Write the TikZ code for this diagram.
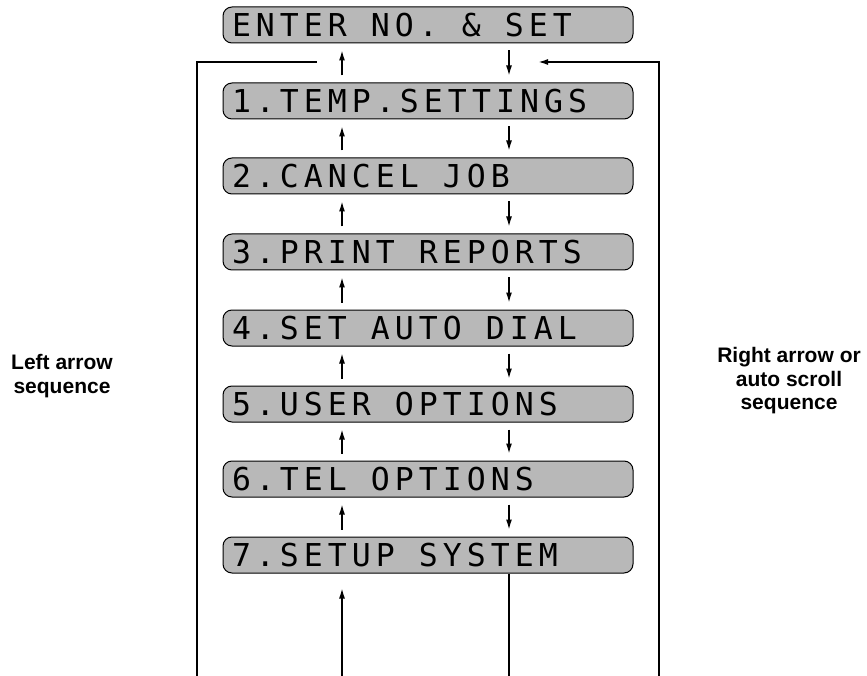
\documentclass[tikz,border=0pt]{standalone}
\usepackage{fontspec}
\newfontfamily\lcdfont[LetterSpace=16]{DejaVu Sans Mono}
\newfontfamily\labelfont{Liberation Sans}
\newcommand\lcdsetup{\lcdfont\fontsize{31.5}{32}\selectfont}
\newcommand\lcdgap{\hspace*{24pt}}
\usetikzlibrary{arrows.meta,positioning}

\begin{document}
\begin{tikzpicture}[
    >={Latex[length=10pt,width=6pt]},
    x=1pt,
    y=-1pt,
    screen/.style={draw, line width=1pt, rounded corners=9pt, fill=black!28,
        minimum width=410pt, minimum height=36pt, text width=392pt,
        inner xsep=9pt, align=left, text height=23pt, text depth=0pt,
        font=\lcdsetup},
    stepline/.style={line width=1.3pt, shorten >=7pt, shorten <=7pt},
    loopline/.style={line width=1.8pt},
    sidelabel/.style={align=center,
        font=\labelfont\bfseries\fontsize{21}{23.5}\selectfont}
]

\useasboundingbox (0,0) rectangle (867,676);

% Ekrany menu
\node[screen] (m0) at (428,25) {ENTER\lcdgap NO.\lcdgap\&\lcdgap SET};
\node[screen] (m1) at (428,101) {1.TEMP.SETTINGS};
\node[screen] (m2) at (428,176) {2.CANCEL\lcdgap JOB};
\node[screen] (m3) at (428,252) {3.PRINT\lcdgap REPORTS};
\node[screen] (m4) at (428,328) {4.SET\lcdgap AUTO\lcdgap DIAL};
\node[screen] (m5) at (428,404) {5.USER\lcdgap OPTIONS};
\node[screen] (m6) at (428,479) {6.TEL\lcdgap OPTIONS};
\node[screen] (m7) at (428,555) {7.SETUP\lcdgap SYSTEM};

% Punkty pomocnicze
\coordinate (ubot) at (342,676);
\coordinate (dbot) at (509,676);
\coordinate (lbot) at (197,676);
\coordinate (ltop) at (317,62);
\coordinate (rbot) at (659,676);
\coordinate (rtop) at (538,62);

% Strzalki w gore
\draw[stepline,->] (m1.north -| ubot) -- (m0.south -| ubot);
\draw[stepline,->] (m2.north -| ubot) -- (m1.south -| ubot);
\draw[stepline,->] (m3.north -| ubot) -- (m2.south -| ubot);
\draw[stepline,->] (m4.north -| ubot) -- (m3.south -| ubot);
\draw[stepline,->] (m5.north -| ubot) -- (m4.south -| ubot);
\draw[stepline,->] (m6.north -| ubot) -- (m5.south -| ubot);
\draw[stepline,->] (m7.north -| ubot) -- (m6.south -| ubot);

% Strzalki w dol
\draw[stepline,->] (m0.south -| dbot) -- (m1.north -| dbot);
\draw[stepline,->] (m1.south -| dbot) -- (m2.north -| dbot);
\draw[stepline,->] (m2.south -| dbot) -- (m3.north -| dbot);
\draw[stepline,->] (m3.south -| dbot) -- (m4.north -| dbot);
\draw[stepline,->] (m4.south -| dbot) -- (m5.north -| dbot);
\draw[stepline,->] (m5.south -| dbot) -- (m6.north -| dbot);
\draw[stepline,->] (m6.south -| dbot) -- (m7.north -| dbot);

% Wejscie i wyjscie na dole
\draw[stepline,->,shorten <=0pt,shorten >=15pt] (ubot) -- (m7.south -| ubot);
\draw[stepline,shorten <=0pt,shorten >=0pt] (m7.south -| dbot) -- (dbot);

% Petle boczne
\draw[loopline] (lbot) |- (ltop);
\draw[loopline,->] (rbot) |- (rtop);

% Opisy
\node[sidelabel] (lleft) at (62,376) {Left arrow\\sequence};
\node[sidelabel] (lright) at (789,381) {Right arrow or\\auto scroll\\sequence};

\end{tikzpicture}
\end{document}
